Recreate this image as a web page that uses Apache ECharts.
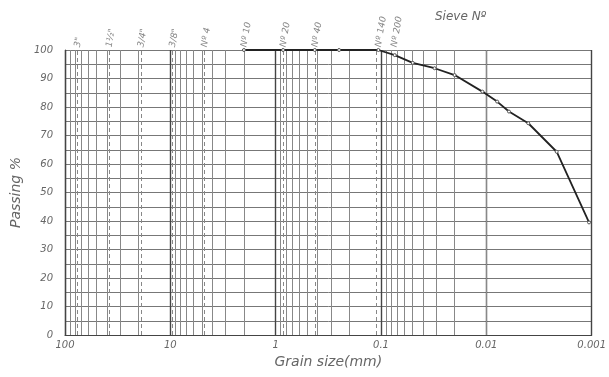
<!DOCTYPE html>
<html>
<head>
<meta charset="utf-8">
<script src="https://cdn.jsdelivr.net/npm/echarts@6/dist/echarts.min.js"></script>
<style>
html, body { margin: 0; padding: 0; background: #fff; }
#chart { width: 609px; height: 377px; }
</style>
</head>
<body>
<div id="chart"></div>
<script>
// grain size curve
var grainSize = [2.0, 0.85, 0.425, 0.25, 0.106, 0.074, 0.05, 0.031, 0.02, 0.0109, 0.0079, 0.0061, 0.004, 0.00215, 0.00106];
var passing   = [100, 100, 100, 100, 100, 98.2, 95.5, 93.6, 91.2, 85.4, 81.9, 78.4, 74.3, 64.3, 39.5];

// sieve openings (mm) and their names
var sieveSize  = [76.2, 38.1, 19.05, 9.525, 4.75, 2.0, 0.85, 0.425, 0.106, 0.075];
var sieveNames = ['3"', '1½"', '3/4"', '3/8"', 'Nº 4', 'Nº 10', 'Nº 20', 'Nº 40', 'Nº 140', 'Nº 200'];

var xTickLabels = { '100': '100', '10': '10', '1': '1', '0.1': '0.1', '0.01': '0.01', '0.001': '0.001' };

var font = 'DejaVu Sans';
var textColor = '#666';

// minor log-paper lines 2..9 in every decade
var minorLines = [];
for (var k = -3; k <= 1; k++) {
	for (var d = 2; d <= 9; d++) {
		minorLines.push({ xAxis: d * Math.pow(10, k) });
	}
}

var curve = [];
for (var i = 0; i < grainSize.length; i++) curve.push([grainSize[i], passing[i]]);

var sieveData = [];
var sieveLines = [];
for (var j = 0; j < sieveSize.length; j++) {
	sieveData.push({ value: [sieveSize[j], 100], name: sieveNames[j] });
	sieveLines.push({ xAxis: sieveSize[j] });
}

var myChart = echarts.init(document.getElementById('chart'));
var option = {
	backgroundColor: '#fff',
	animation: false,
	title: {
		text: 'Sieve Nº',
		left: 430,
		top: 6,
		textStyle: { fontFamily: font, fontStyle: 'italic', fontWeight: 'normal', fontSize: 12, color: textColor }
	},
	grid: { left: 65, right: 12, top: 50, bottom: 42 },
	xAxis: {
		type: 'log',
		logBase: 10,
		min: 0.001,
		max: 100,
		inverse: true,
		name: 'Grain size(mm)',
		nameLocation: 'middle',
		nameGap: 20,
		nameTextStyle: { fontFamily: font, fontStyle: 'italic', fontSize: 14, color: textColor },
		axisLine: { show: true, lineStyle: { color: '#444', width: 1.2 } },
		axisTick: { show: false },
		axisLabel: {
			margin: 5,
			fontFamily: font, fontStyle: 'italic', fontSize: 10, color: textColor,
			formatter: function (v) {
				var key = String(+v.toPrecision(3));
				return xTickLabels[key] || '';
			}
		},
		splitLine: { show: true, lineStyle: { color: '#444', width: 1.4 } }
	},
	yAxis: {
		type: 'value',
		min: 0,
		max: 100,
		interval: 5,
		name: 'Passing %',
		nameLocation: 'middle',
		nameGap: 34,
		nameTextStyle: { fontFamily: font, fontStyle: 'italic', fontSize: 14, color: textColor },
		axisLine: { show: true, lineStyle: { color: '#444', width: 1.2 } },
		axisTick: { show: false },
		axisLabel: {
			margin: 12,
			fontFamily: font, fontStyle: 'italic', fontSize: 10, color: textColor,
			formatter: function (v) { return v % 10 === 0 ? v : ''; }
		},
		splitLine: { show: true, lineStyle: { color: '#777', width: 1 } }
	},
	series: [
		{
			name: 'grid',
			type: 'line',
			data: [],
			silent: true,
			markLine: {
				silent: true,
				symbol: 'none',
				label: { show: false },
				lineStyle: { color: '#888', width: 1, type: 'solid' },
				data: minorLines
			}
		},
		{
			name: 'sieves',
			type: 'scatter',
			data: sieveData,
			symbolSize: 0,
			silent: true,
			label: {
				show: true,
				formatter: '{b}',
				position: 'top',
				distance: 3,
				rotate: 80,
				align: 'left',
				verticalAlign: 'middle',
				fontFamily: font, fontStyle: 'italic', fontSize: 9, color: textColor
			},
			markLine: {
				silent: true,
				symbol: 'none',
				label: { show: false },
				lineStyle: { color: '#888', width: 1, type: [4, 3] },
				data: sieveLines
			}
		},
		{
			name: 'passing',
			type: 'line',
			data: curve,
			symbol: 'circle',
			symbolSize: 3,
			itemStyle: { color: '#fff', borderColor: '#555', borderWidth: 1 },
			lineStyle: { color: '#222', width: 1.8 },
			z: 5
		}
	]
};
myChart.setOption(option);
</script>
</body>
</html>
